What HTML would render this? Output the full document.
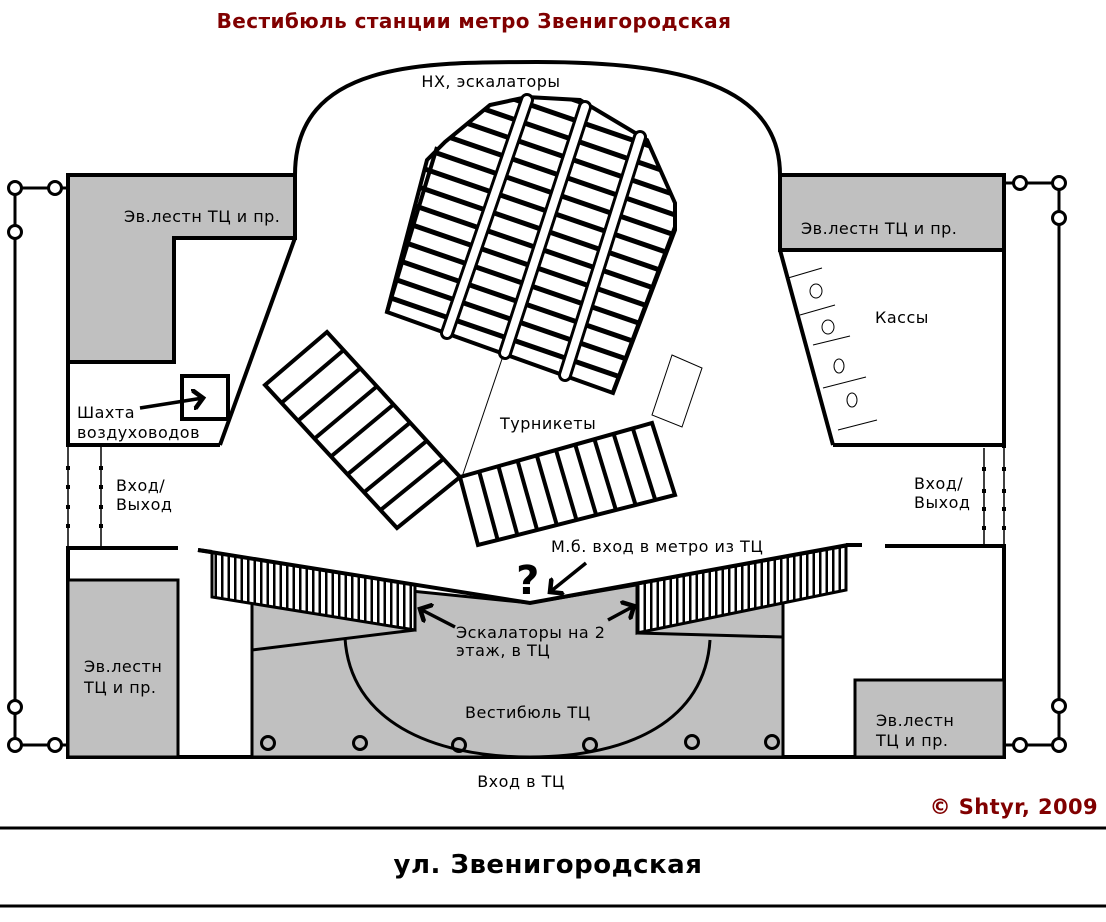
<!DOCTYPE html>
<html><head><meta charset="utf-8"><style>
html,body{margin:0;padding:0;background:#fff;}
svg{display:block;}
text{font-family:"DejaVu Sans","Liberation Sans",sans-serif;font-size:16px;letter-spacing:0.5px;fill:#000;}
</style></head><body>
<svg width="1106" height="922" viewBox="0 0 1106 922" xmlns="http://www.w3.org/2000/svg">
<defs>
<pattern id="steps" width="40" height="19" patternUnits="userSpaceOnUse" patternTransform="rotate(19)">
<rect width="40" height="19" fill="#fff"/><rect y="0" width="40" height="5" fill="#000"/>
</pattern>
<pattern id="vh" width="6.5" height="10" patternUnits="userSpaceOnUse">
<rect width="6.5" height="10" fill="#fff"/><rect x="0" width="2.5" height="10" fill="#000"/>
</pattern>
<marker id="ah" markerWidth="6" markerHeight="6" refX="3" refY="3" orient="auto" markerUnits="strokeWidth">
<path d="M0,0 L3,3 L0,6" fill="none" stroke="#000" stroke-width="1.3"/>
</marker>
</defs>

<text x="474" y="28" text-anchor="middle" style="font-size:20px;letter-spacing:0.4px;font-weight:bold;fill:#800000">Вестибюль станции метро Звенигородская</text>

<g stroke="#000" stroke-width="4" fill="none">
<path d="M295,175 C295,62 420,62 537,62 C680,62 780,85 780,175"/>
<line x1="68" y1="362" x2="68" y2="445"/>
<line x1="68" y1="548" x2="68" y2="757"/>
<line x1="66" y1="757" x2="1006" y2="757"/>
<line x1="1004" y1="175" x2="1004" y2="448"/>
<line x1="1004" y1="546" x2="1004" y2="757"/>
<line x1="66" y1="445" x2="220" y2="445"/>
<line x1="295" y1="238" x2="220" y2="445"/>
<line x1="780" y1="250" x2="833" y2="445"/>
<line x1="833" y1="445" x2="1006" y2="445"/>
<line x1="66" y1="548" x2="178" y2="548"/>
<line x1="198" y1="550" x2="212" y2="552"/>
<line x1="885" y1="546" x2="1006" y2="546"/>
<line x1="846" y1="545" x2="862" y2="545"/>
</g>

<polygon points="68,175 295,175 295,238 174,238 174,362 68,362" fill="#c0c0c0" stroke="#000" stroke-width="4"/>
<rect x="780" y="175" width="224" height="75" fill="#c0c0c0" stroke="#000" stroke-width="4"/>
<rect x="68" y="580" width="110" height="177" fill="#c0c0c0" stroke="#000" stroke-width="3"/>
<rect x="855" y="680" width="149" height="77" fill="#c0c0c0" stroke="#000" stroke-width="3"/>
<polygon points="252,575 530,603 783,560 783,757 252,757" fill="#c0c0c0" stroke="#000" stroke-width="3"/>
<line x1="252" y1="650" x2="415" y2="630" stroke="#000" stroke-width="3"/>
<line x1="637" y1="633" x2="783" y2="637" stroke="#000" stroke-width="3"/>
<path d="M345,638 C350,720 430,757 530,757 C630,757 705,720 710,640" fill="none" stroke="#000" stroke-width="3"/>
<g fill="none" stroke="#000" stroke-width="3">
<circle cx="268" cy="743" r="6.5"/><circle cx="360" cy="743" r="6.5"/><circle cx="459" cy="745" r="6.5"/><circle cx="590" cy="745" r="6.5"/><circle cx="692" cy="742" r="6.5"/><circle cx="772" cy="742" r="6.5"/>
</g>

<polygon points="212,552 415,585 415,630 212,597" fill="url(#vh)" stroke="#000" stroke-width="3"/>
<polygon points="637,584 846,546 846,590 637,633" fill="url(#vh)" stroke="#000" stroke-width="3"/>
<polyline points="198,550 530,603 848,545" fill="none" stroke="#000" stroke-width="4"/>

<g stroke="#000" stroke-width="1.5">
<line x1="68" y1="445" x2="68" y2="548"/><line x1="101" y1="445" x2="101" y2="548"/>
<line x1="984" y1="448" x2="984" y2="546"/><line x1="1004" y1="448" x2="1004" y2="546"/>
</g>
<g fill="#000">
<rect x="66" y="466" width="4" height="4"/><rect x="66" y="485" width="4" height="4"/><rect x="66" y="505" width="4" height="4"/><rect x="66" y="524" width="4" height="4"/>
<rect x="99" y="466" width="4" height="4"/><rect x="99" y="485" width="4" height="4"/><rect x="99" y="505" width="4" height="4"/><rect x="99" y="524" width="4" height="4"/>
<rect x="982" y="467" width="4" height="4"/><rect x="982" y="489" width="4" height="4"/><rect x="982" y="507" width="4" height="4"/><rect x="982" y="526" width="4" height="4"/>
<rect x="1002" y="467" width="4" height="4"/><rect x="1002" y="489" width="4" height="4"/><rect x="1002" y="507" width="4" height="4"/><rect x="1002" y="526" width="4" height="4"/>
</g>

<g stroke="#000" stroke-width="1" fill="none">
<line x1="788" y1="278" x2="822" y2="268"/>
<line x1="800" y1="315" x2="835" y2="305"/>
<line x1="813" y1="345" x2="850" y2="336"/>
<line x1="823" y1="388" x2="866" y2="377"/>
<line x1="838" y1="430" x2="877" y2="420"/>
<ellipse cx="816" cy="291" rx="6" ry="7"/><ellipse cx="828" cy="327" rx="6" ry="7"/>
<ellipse cx="839" cy="366" rx="5" ry="7"/><ellipse cx="852" cy="400" rx="5" ry="7"/>
</g>

<rect x="182" y="376" width="46" height="43" fill="none" stroke="#000" stroke-width="4"/>

<polygon points="387,312 427,160 445,142 490,105 527,97 580,100 647,140 675,203 675,230 613,393" fill="url(#steps)" stroke="#000" stroke-width="4"/>
<g stroke-linecap="round">
<g stroke="#000" stroke-width="14">
<line x1="527" y1="100" x2="447" y2="333"/><line x1="585" y1="107" x2="505" y2="353"/><line x1="640" y1="137" x2="565" y2="375"/>
</g>
<g stroke="#fff" stroke-width="8">
<line x1="527" y1="100" x2="447" y2="333"/><line x1="585" y1="107" x2="505" y2="353"/><line x1="640" y1="137" x2="565" y2="375"/>
</g>
</g>
<polyline points="437,147 387,312" fill="none" stroke="#000" stroke-width="4"/>
<polyline points="675,227 613,392" fill="none" stroke="#000" stroke-width="4"/>

<polygon points="265,385 327,332 460,477 397,528" fill="#fff" stroke="#000" stroke-width="4"/>
<g stroke="#000" stroke-width="4">
<line x1="281.5" y1="402.9" x2="343.6" y2="350.1"/><line x1="298" y1="420.8" x2="360.3" y2="368.3"/>
<line x1="314.5" y1="438.6" x2="376.9" y2="386.4"/><line x1="331" y1="456.5" x2="393.5" y2="404.5"/>
<line x1="347.5" y1="474.4" x2="410.1" y2="422.6"/><line x1="364" y1="492.3" x2="426.8" y2="440.8"/>
<line x1="380.5" y1="510.1" x2="443.4" y2="458.9"/>
</g>

<polygon points="460,477 652,423 675,495 478,545" fill="#fff" stroke="#000" stroke-width="4"/>
<g stroke="#000" stroke-width="4">
<line x1="479.2" y1="471.6" x2="497.7" y2="540"/><line x1="498.4" y1="466.2" x2="517.4" y2="535"/>
<line x1="517.6" y1="460.8" x2="537.1" y2="530"/><line x1="536.8" y1="455.4" x2="556.8" y2="525"/>
<line x1="556" y1="450" x2="576.5" y2="520"/><line x1="575.2" y1="444.6" x2="596.2" y2="515"/>
<line x1="594.4" y1="439.2" x2="615.9" y2="510"/><line x1="613.6" y1="433.8" x2="635.6" y2="505"/>
<line x1="632.8" y1="428.4" x2="655.3" y2="500"/>
</g>
<polygon points="672,355 702,368 682,427 652,415" fill="none" stroke="#000" stroke-width="1"/>
<line x1="503" y1="356" x2="462" y2="477" stroke="#000" stroke-width="1"/>

<g stroke="#000" stroke-width="3" fill="#fff">
<line x1="15" y1="188" x2="68" y2="188"/><line x1="15" y1="188" x2="15" y2="745"/><line x1="15" y1="745" x2="68" y2="745"/>
<line x1="1004" y1="183" x2="1059" y2="183"/><line x1="1059" y1="183" x2="1059" y2="745"/><line x1="1004" y1="745" x2="1059" y2="745"/>
<circle cx="15" cy="188" r="6.5"/><circle cx="55" cy="188" r="6.5"/><circle cx="15" cy="232" r="6.5"/>
<circle cx="15" cy="707" r="6.5"/><circle cx="15" cy="745" r="6.5"/><circle cx="55" cy="745" r="6.5"/>
<circle cx="1020" cy="183" r="6.5"/><circle cx="1059" cy="183" r="6.5"/><circle cx="1059" cy="218" r="6.5"/>
<circle cx="1059" cy="706" r="6.5"/><circle cx="1020" cy="745" r="6.5"/><circle cx="1059" cy="745" r="6.5"/>
</g>

<g stroke="#000" stroke-width="3.5" fill="none" marker-end="url(#ah)">
<line x1="140" y1="408" x2="203" y2="398"/>
<line x1="586" y1="563" x2="550" y2="592"/>
<line x1="455" y1="627" x2="420" y2="609"/>
<line x1="608" y1="620" x2="634" y2="606"/>
</g>
<text x="528" y="594" text-anchor="middle" style="font-size:40px;font-weight:bold">?</text>

<text x="491" y="87" text-anchor="middle">НХ, эскалаторы</text>
<text x="124" y="222">Эв.лестн ТЦ и пр.</text>
<text x="801" y="234">Эв.лестн ТЦ и пр.</text>
<text x="875" y="323">Кассы</text>
<text x="77" y="418">Шахта</text>
<text x="77" y="438">воздуховодов</text>
<text x="116" y="491">Вход/</text>
<text x="116" y="510">Выход</text>
<text x="914" y="489">Вход/</text>
<text x="914" y="508">Выход</text>
<text x="500" y="429">Турникеты</text>
<text x="551" y="552">М.б. вход в метро из ТЦ</text>
<text x="456" y="638">Эскалаторы на 2</text>
<text x="456" y="656">этаж, в ТЦ</text>
<text x="465" y="718">Вестибюль ТЦ</text>
<text x="84" y="672">Эв.лестн</text>
<text x="84" y="693">ТЦ и пр.</text>
<text x="876" y="726">Эв.лестн</text>
<text x="876" y="746">ТЦ и пр.</text>
<text x="521" y="787" text-anchor="middle">Вход в ТЦ</text>
<text x="1098" y="814" text-anchor="end" style="font-size:21px;letter-spacing:0.4px;font-weight:bold;fill:#800000">© Shtyr, 2009</text>

<line x1="0" y1="828" x2="1106" y2="828" stroke="#000" stroke-width="3"/>
<line x1="0" y1="906" x2="1106" y2="906" stroke="#000" stroke-width="3"/>
<text x="548" y="873" text-anchor="middle" style="font-size:26px;letter-spacing:0.5px;font-weight:bold">ул. Звенигородская</text>
</svg>
</body></html>
